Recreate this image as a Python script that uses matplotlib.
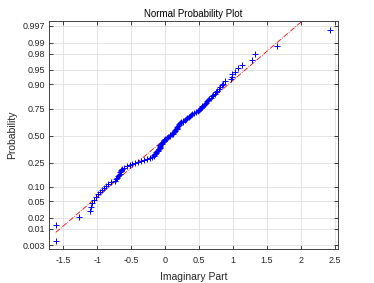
from statistics import NormalDist
import numpy as np
from matplotlib import pyplot as plt

# ---------------- data (sorted sample) ----------------
values = [
    -1.61, -1.60, -1.27, -1.10, -1.09, -1.08, -1.05, -1.02, -0.99, -0.96,
    -0.93, -0.90, -0.87, -0.84, -0.79, -0.74, -0.72, -0.71, -0.69, -0.68,
    -0.66, -0.66, -0.65, -0.65, -0.64, -0.61, -0.56, -0.52, -0.48, -0.44,
    -0.40, -0.36, -0.31, -0.27, -0.22, -0.19, -0.17, -0.16, -0.15, -0.14,
    -0.13, -0.12, -0.11, -0.10, -0.09, -0.08, -0.08, -0.07, -0.07, -0.06,
    -0.05, -0.04, -0.03, -0.02, -0.01, 0.00, 0.02, 0.03, 0.05, 0.07,
    0.08, 0.10, 0.11, 0.12, 0.13, 0.14, 0.15, 0.16, 0.17, 0.17,
    0.18, 0.19, 0.20, 0.21, 0.22, 0.24, 0.26, 0.27, 0.29, 0.31,
    0.32, 0.35, 0.37, 0.38, 0.40, 0.43, 0.46, 0.48, 0.50, 0.51,
    0.53, 0.54, 0.55, 0.57, 0.59, 0.60, 0.62, 0.63, 0.65, 0.67,
    0.69, 0.71, 0.73, 0.75, 0.77, 0.79, 0.81, 0.84, 0.86, 0.88,
    0.97, 0.98, 0.99, 1.03, 1.08, 1.14, 1.28, 1.32, 1.65, 2.43,
]
prob_ticks = [0.003, 0.01, 0.02, 0.05, 0.10, 0.25, 0.50, 0.75, 0.90, 0.95, 0.98, 0.99, 0.997]
prob_labels = ['0.003', '0.01', '0.02', '0.05', '0.10', '0.25', '0.50', '0.75',
               '0.90', '0.95', '0.98', '0.99', '0.997']
x_ticks = [-1.5, -1, -0.5, 0, 0.5, 1, 1.5, 2, 2.5]
x_labels = ['-1.5', '-1', '-0.5', '0', '0.5', '1', '1.5', '2', '2.5']

# ---------------- normal scores ----------------
nd = NormalDist()
x = np.sort(np.array(values))
n = len(x)
z = np.array([nd.inv_cdf((i - 0.5) / n) for i in range(1, n + 1)])

# reference line through the quartiles
q1, q3 = np.percentile(x, [25, 75])
z1, z3 = nd.inv_cdf(0.25), nd.inv_cdf(0.75)
slope = (z3 - z1) / (q3 - q1)
xl = np.array([x.min(), x.max()])
zl = z1 + slope * (xl - q1)

# ---------------- plot ----------------
dark = '#262626'
plt.rcParams['font.family'] = 'Liberation Sans'
fig = plt.figure(figsize=(3.74, 2.83), dpi=100)
ax = fig.add_axes([0.131, 0.12, 0.773, 0.807])

ax.plot(xl, zl, color='red', linestyle='-.', linewidth=0.6, zorder=2)
ax.plot(x, z, '+', color='blue', markersize=5, markeredgewidth=0.7, zorder=3)

ax.set_xlim(-1.71, 2.55)
ax.set_ylim(-2.84, 2.88)
ax.set_xticks(x_ticks)
ax.set_xticklabels(x_labels)
ax.set_yticks([nd.inv_cdf(p) for p in prob_ticks])
ax.set_yticklabels(prob_labels)

ax.grid(True, color='#e0e0e0', linewidth=0.6)
ax.set_axisbelow(True)
ax.tick_params(direction='in', length=3, width=0.6, colors=dark,
               labelsize=6.5, top=True, right=True)
ax.tick_params(axis='x', pad=5)
ax.tick_params(axis='y', pad=3)
for s in ax.spines.values():
    s.set_color(dark)
    s.set_linewidth(0.6)

ax.set_title('Normal Probability Plot', fontsize=7, color='black', pad=2.5)
ax.set_xlabel('Imaginary Part', fontsize=7.5, color=dark, labelpad=5)
ax.set_ylabel('Probability', fontsize=7.5, color=dark, labelpad=4)

fig.savefig('out.png', dpi=100)
